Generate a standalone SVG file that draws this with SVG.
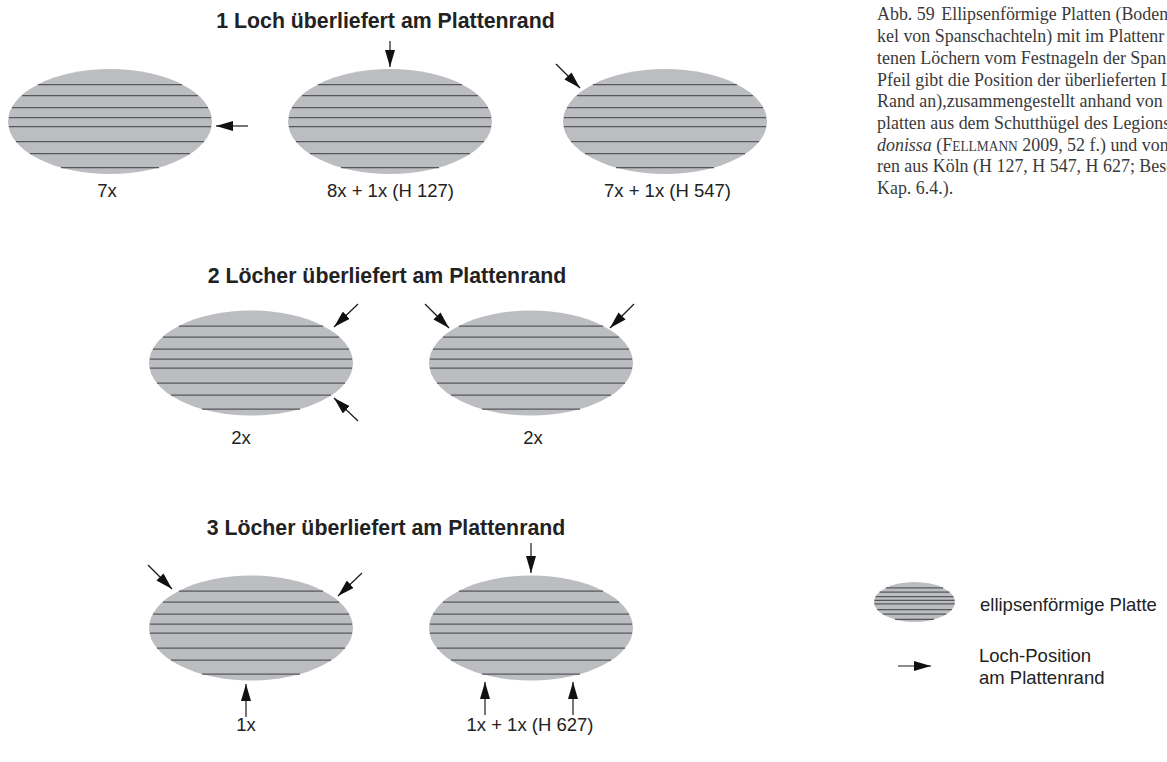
<svg xmlns="http://www.w3.org/2000/svg" xmlns:xlink="http://www.w3.org/1999/xlink" width="1167" height="762" viewBox="0 0 1167 762">
<style>
.plate{fill:#bcbdc0}
.stripe{stroke:#56585d;stroke-width:1.25;fill:none;vector-effect:non-scaling-stroke}
.arrow{stroke:#1a1a1a;stroke-width:1.2;fill:none;marker-end:url(#ah)}
.title{font-family:"Liberation Sans",Arial,sans-serif;font-weight:bold;font-size:21.3px;fill:#222;text-anchor:middle}
.lbl{font-family:"Liberation Sans",Arial,sans-serif;font-size:18.5px;fill:#222;text-anchor:middle}
.leg{font-family:"Liberation Sans",Arial,sans-serif;font-size:18.5px;fill:#222}
.cap{font-family:"Liberation Serif","Times New Roman",serif;font-size:19.5px;fill:#3a3a3a}
</style>
<defs>
<marker id="ah" markerUnits="userSpaceOnUse" markerWidth="17" markerHeight="10" refX="17" refY="5" orient="auto" viewBox="0 0 17 10">
<path d="M0,0 L17,5 L0,10 z" fill="#111"/>
</marker>
<g id="plate">
<ellipse cx="0" cy="0" rx="102" ry="52.5" class="plate"/>
<path class="stripe" d="M-72,-37H72M-88,-26H88M-98,-14H98M-101,-4H101M-101,5H101M-94,20H94M-80,32H80M-49,46H49"/>
</g>
</defs>

<g id="titles">
<text class="title" x="385.5" y="28">1 Loch überliefert am Plattenrand</text>
<text class="title" x="387" y="283">2 Löcher überliefert am Plattenrand</text>
<text class="title" x="386" y="535">3 Löcher überliefert am Plattenrand</text>
</g>

<g id="plate-1"><use xlink:href="#plate" x="110" y="121.5"/><text class="lbl" x="107" y="197">7x</text></g>
<g id="plate-2"><use xlink:href="#plate" x="390" y="121.5"/><text class="lbl" x="390.5" y="197">8x + 1x (H 127)</text></g>
<g id="plate-3"><use xlink:href="#plate" x="665" y="121.5"/><text class="lbl" x="667.5" y="197">7x + 1x (H 547)</text></g>
<g id="plate-4"><use xlink:href="#plate" x="251" y="363"/><text class="lbl" x="241" y="443.5">2x</text></g>
<g id="plate-5"><use xlink:href="#plate" x="531" y="363"/><text class="lbl" x="533" y="443.5">2x</text></g>
<g id="plate-6"><use xlink:href="#plate" x="251" y="628"/><text class="lbl" x="246" y="731">1x</text></g>
<g id="plate-7"><use xlink:href="#plate" x="531" y="628"/><text class="lbl" x="530" y="731">1x + 1x (H 627)</text></g>

<g id="connectors">
<path class="arrow" d="M248,126 L216,126"/>
<path class="arrow" d="M390,41 L390,67"/>
<path class="arrow" d="M556,64 L580,88"/>
<path class="arrow" d="M358,304 L334,327"/>
<path class="arrow" d="M358,421 L334,398"/>
<path class="arrow" d="M425,304 L449,328"/>
<path class="arrow" d="M634,304 L610,328"/>
<path class="arrow" d="M148,565 L172,589"/>
<path class="arrow" d="M362,573 L338,596"/>
<path class="arrow" d="M246,717 L246,684"/>
<path class="arrow" d="M531,543 L531,573"/>
<path class="arrow" d="M485,715 L485,682"/>
<path class="arrow" d="M573,715 L573,682"/>
</g>

<g id="legend">
<g id="legend-plate" transform="translate(914.5,602) scale(0.397,0.38)"><use xlink:href="#plate"/></g>
<text class="leg" x="980" y="611">ellipsenförmige Platte</text>
<path id="legend-arrow" class="arrow" d="M898,666 L931,666"/>
<text class="leg" x="979" y="662">Loch-Position</text>
<text class="leg" x="979" y="684">am Plattenrand</text>
</g>

<g id="caption" class="cap" transform="translate(877,0) scale(0.92,1)">
<text x="0" y="20.5">Abb. 59<tspan dx="7">Ellipsenförmige Platten (Boden</tspan></text>
<text x="0" y="42.2">kel von Spanschachteln) mit im Plattenr</text>
<text x="0" y="63.9">tenen Löchern vom Festnageln der Span</text>
<text x="0" y="85.6">Pfeil gibt die Position der überlieferten L</text>
<text x="0" y="107.3">Rand an),zusammengestellt anhand von</text>
<text x="0" y="129">platten aus dem Schutthügel des Legionsl</text>
<text x="0" y="150.7"><tspan font-style="italic">donissa</tspan> (F<tspan font-size="14.6px">ELLMANN</tspan> 2009, 52 f.) und von 3</text>
<text x="0" y="172.4">ren aus Köln (H 127, H 547, H 627; Beschr</text>
<text x="0" y="194.1">Kap. 6.4.).</text>
</g>
</svg>
